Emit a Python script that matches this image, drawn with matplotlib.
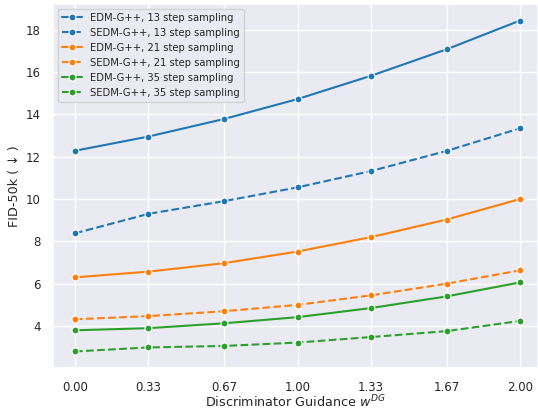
import matplotlib
matplotlib.use("Agg")
import matplotlib.pyplot as plt
import seaborn as sns

sns.set_theme(style="darkgrid")

# discriminator guidance weights
w_dg = [0.0, 0.33, 0.67, 1.0, 1.33, 1.67, 2.0]
tick_labels = ["0.00", "0.33", "0.67", "1.00", "1.33", "1.67", "2.00"]

# FID-50k values
edm_13 = [12.28, 12.95, 13.78, 14.72, 15.82, 17.07, 18.43]
sedm_13 = [8.38, 9.30, 9.90, 10.55, 11.32, 12.27, 13.34]
edm_21 = [6.30, 6.57, 6.97, 7.52, 8.20, 9.03, 10.00]
sedm_21 = [4.32, 4.47, 4.70, 5.00, 5.45, 6.00, 6.63]
edm_35 = [3.80, 3.90, 4.13, 4.42, 4.85, 5.40, 6.06]
sedm_35 = [2.80, 2.99, 3.06, 3.22, 3.48, 3.76, 4.24]

series = [
    ("EDM-G++, 13 step sampling", edm_13, "#1f77b4", "-"),
    ("SEDM-G++, 13 step sampling", sedm_13, "#1f77b4", "--"),
    ("EDM-G++, 21 step sampling", edm_21, "#ff7f0e", "-"),
    ("SEDM-G++, 21 step sampling", sedm_21, "#ff7f0e", "--"),
    ("EDM-G++, 35 step sampling", edm_35, "#2ca02c", "-"),
    ("SEDM-G++, 35 step sampling", sedm_35, "#2ca02c", "--"),
]

fig = plt.figure(figsize=(5.38, 4.11), dpi=100)
ax = fig.add_axes([53 / 538, 1 - 368 / 411, 1 - 53 / 538, 364 / 411])

for label, vals, color, ls in series:
    ax.plot(w_dg, vals, linestyle=ls, color=color, marker="o", markersize=5,
            markeredgecolor="white", markeredgewidth=0.8, linewidth=1.5, label=label)

ax.set_xticks(w_dg)
ax.set_xticklabels(tick_labels)
ax.set_yticks([4, 6, 8, 10, 12, 14, 16, 18])
ax.set_xlim(-0.099, 2.081)
ax.tick_params(axis="y", labelsize=8.5, pad=3)
ax.tick_params(axis="x", labelsize=8.5, pad=3)
ax.set_xlabel("Discriminator Guidance $w^{DG}$", fontsize=9.2, labelpad=0)
ax.set_ylabel("FID-50k ( \u2193 )", fontsize=9.2, labelpad=3)
ax.legend(loc="upper left", fontsize=7.2, handlelength=2.0)

fig.savefig("out.png", dpi=100)
